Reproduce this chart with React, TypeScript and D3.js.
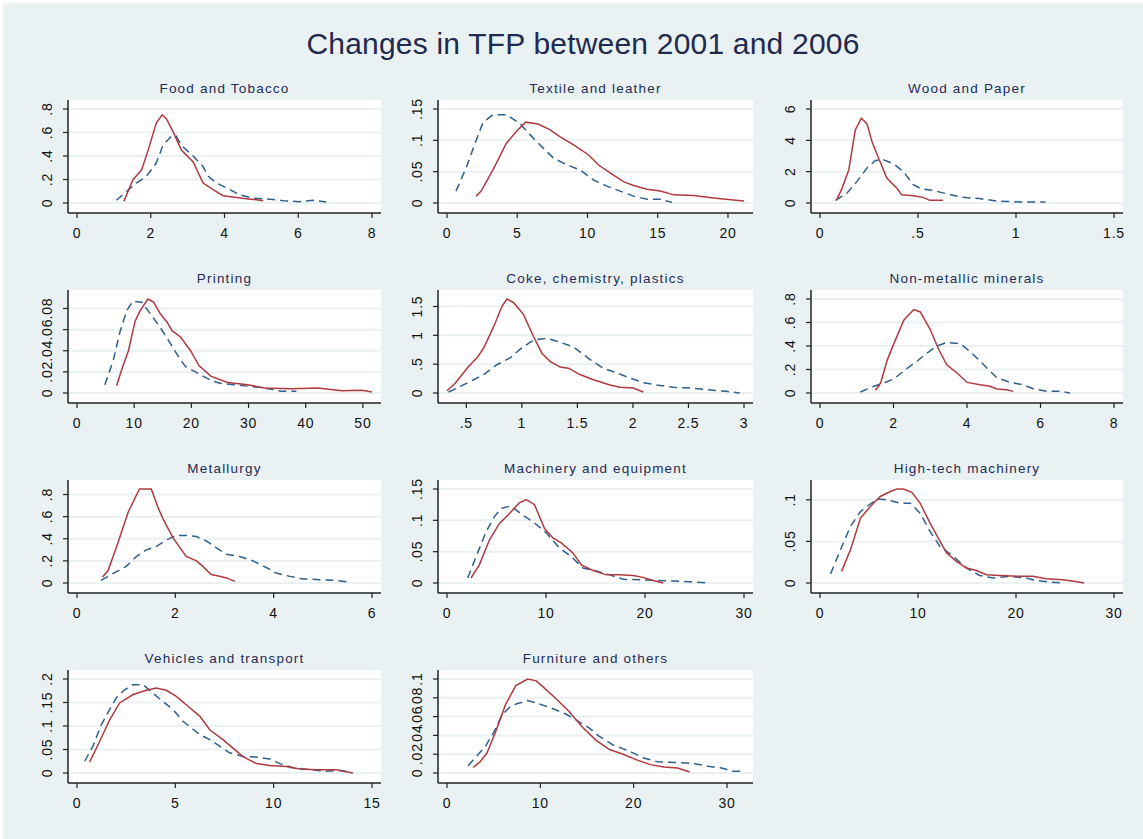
import React from 'react'
import * as d3 from 'd3'

// [x, density] points; blue dashed = 2001, red solid = 2006
const foodBlue = [[1.07,0.023],[1.61,0.17],[1.88,0.226],[2.15,0.34],[2.33,0.49],[2.56,0.57],[2.69,0.57],[2.83,0.49],[3.15,0.4],[3.42,0.31],[3.55,0.23],[3.78,0.17],[4.05,0.13],[4.41,0.07],[4.77,0.04],[5.14,0.034],[5.59,0.02],[6.04,0.011],[6.4,0.023],[6.76,0.008]]
const foodRed = [[1.27,0.014],[1.52,0.2],[1.75,0.28],[1.93,0.45],[2.15,0.68],[2.31,0.75],[2.42,0.72],[2.6,0.61],[2.83,0.45],[3.15,0.35],[3.42,0.17],[3.69,0.113],[3.96,0.062],[4.23,0.051],[4.59,0.037],[4.86,0.028],[5.05,0.02]]

const textileBlue = [[0.64,0.019],[1.36,0.056],[1.96,0.093],[2.55,0.128],[3.27,0.141],[4.22,0.141],[5.17,0.127],[6.37,0.098],[7.56,0.072],[8.51,0.061],[9.46,0.053],[10.41,0.037],[11.37,0.027],[12.32,0.019],[13.28,0.011],[14.23,0.006],[15.18,0.006],[16.02,0.001]]
const textileRed = [[2.07,0.011],[2.43,0.019],[3.27,0.053],[4.22,0.095],[4.93,0.114],[5.6,0.129],[6.48,0.126],[7.32,0.117],[8.03,0.106],[8.98,0.093],[10.06,0.077],[10.77,0.061],[11.61,0.048],[12.56,0.034],[13.28,0.028],[14.23,0.022],[15.18,0.019],[16.14,0.013],[17.57,0.012],[18.99,0.008],[20.19,0.005],[21.14,0.003]]

const woodBlue = [[0.079,0.17],[0.138,0.64],[0.189,1.38],[0.24,2.23],[0.282,2.71],[0.324,2.76],[0.375,2.5],[0.425,2.01],[0.476,1.17],[0.518,0.89],[0.577,0.81],[0.645,0.59],[0.729,0.36],[0.813,0.28],[0.914,0.11],[1.03,0.06],[1.15,0.06]]
const woodRed = [[0.084,0.17],[0.113,0.95],[0.147,2.12],[0.18,4.66],[0.211,5.41],[0.24,5.05],[0.265,3.92],[0.299,2.86],[0.341,1.59],[0.392,0.95],[0.417,0.53],[0.476,0.47],[0.526,0.36],[0.56,0.17],[0.628,0.17]]

const printBlue = [[4.88,0.0078],[6.35,0.031],[7.52,0.058],[8.7,0.078],[9.75,0.087],[11.34,0.086],[13.1,0.073],[14.57,0.062],[16.33,0.047],[17.8,0.034],[18.98,0.025],[21.04,0.019],[23.39,0.012],[25.15,0.009],[27.5,0.0078],[30.43,0.0062],[32.78,0.0047],[35.72,0.0016],[38.37,0.0016]]
const printRed = [[6.93,0.0068],[7.81,0.022],[8.99,0.04],[10.16,0.068],[11.05,0.078],[12.4,0.089],[13.4,0.086],[14.57,0.075],[15.75,0.067],[16.63,0.059],[18.1,0.053],[19.86,0.04],[21.33,0.026],[23.39,0.016],[26.32,0.01],[29.85,0.0078],[32.78,0.0047],[37.49,0.004],[42.19,0.0047],[46.3,0.0022],[49.82,0.0025],[51.59,0.0009]]

const cokeBlue = [[0.34,0.017],[0.446,0.115],[0.566,0.23],[0.656,0.32],[0.775,0.49],[0.895,0.61],[0.985,0.76],[1.105,0.92],[1.225,0.95],[1.344,0.88],[1.464,0.8],[1.614,0.58],[1.733,0.43],[1.853,0.35],[1.973,0.26],[2.093,0.18],[2.213,0.14],[2.362,0.098],[2.512,0.087],[2.662,0.058],[2.841,0.029],[2.961,0]]
const cokeRed = [[0.326,0.04],[0.4,0.17],[0.52,0.46],[0.596,0.61],[0.656,0.78],[0.746,1.15],[0.82,1.5],[0.865,1.63],[0.925,1.57],[1.015,1.36],[1.105,0.98],[1.18,0.69],[1.254,0.55],[1.344,0.45],[1.419,0.43],[1.524,0.32],[1.644,0.23],[1.793,0.14],[1.883,0.098],[2.003,0.087],[2.093,0.017]]

const mineralBlue = [[1.1,0.008],[1.46,0.057],[1.74,0.085],[2.01,0.12],[2.37,0.21],[2.64,0.27],[2.91,0.34],[3.18,0.4],[3.45,0.43],[3.82,0.42],[4.09,0.35],[4.36,0.27],[4.81,0.13],[5.17,0.09],[5.53,0.07],[5.8,0.037],[6.17,0.014],[6.53,0.014],[6.8,0]]
const mineralRed = [[1.51,0.023],[1.65,0.085],[1.83,0.28],[2.01,0.42],[2.28,0.62],[2.55,0.71],[2.73,0.69],[3.0,0.54],[3.23,0.37],[3.45,0.24],[3.73,0.17],[4.0,0.09],[4.36,0.07],[4.63,0.057],[4.81,0.034],[5.08,0.028],[5.26,0.014]]

const metalBlue = [[0.49,0.024],[0.73,0.085],[1.0,0.15],[1.21,0.24],[1.41,0.3],[1.61,0.33],[1.82,0.39],[2.02,0.43],[2.22,0.43],[2.43,0.42],[2.63,0.38],[2.83,0.32],[3.04,0.26],[3.31,0.24],[3.58,0.2],[3.85,0.14],[4.05,0.09],[4.33,0.06],[4.6,0.037],[4.94,0.03],[5.27,0.024],[5.51,0.009]]
const metalRed = [[0.52,0.055],[0.63,0.11],[0.8,0.32],[1.04,0.64],[1.27,0.85],[1.51,0.85],[1.65,0.68],[1.75,0.58],[1.95,0.41],[2.22,0.24],[2.43,0.2],[2.56,0.15],[2.73,0.076],[2.9,0.061],[3.04,0.046],[3.21,0.015]]

const machBlue = [[2.09,0.008],[2.94,0.042],[3.95,0.082],[4.79,0.106],[5.47,0.119],[6.48,0.123],[7.66,0.108],[8.67,0.098],[10.02,0.08],[11.37,0.056],[12.55,0.042],[13.74,0.024],[15.09,0.019],[16.44,0.013],[17.79,0.006],[19.47,0.005],[21.16,0.004],[22.85,0.003],[24.54,0.002],[26.39,0]]
const machRed = [[2.43,0.008],[3.27,0.029],[4.29,0.069],[5.3,0.095],[6.31,0.111],[7.32,0.128],[8.0,0.133],[8.84,0.125],[9.85,0.087],[10.7,0.072],[11.54,0.064],[12.72,0.048],[13.57,0.029],[14.75,0.02],[16.1,0.013],[17.45,0.013],[18.8,0.012],[19.81,0.009],[20.82,0.004],[21.84,0]]

const hitechBlue = [[1.08,0.011],[2.09,0.04],[3.11,0.068],[4.13,0.086],[4.8,0.092],[5.82,0.101],[6.83,0.1],[8.18,0.096],[9.2,0.096],[10.21,0.084],[11.23,0.062],[12.24,0.044],[13.6,0.032],[14.95,0.018],[16.3,0.009],[17.65,0.006],[19.34,0.008],[21.03,0.006],[22.05,0.003],[23.4,0.001],[24.92,0]]
const hitechRed = [[2.2,0.014],[3.11,0.04],[4.13,0.078],[5.14,0.092],[6.15,0.104],[7.17,0.11],[7.85,0.113],[8.52,0.113],[9.37,0.109],[10.21,0.096],[11.23,0.072],[12.07,0.054],[12.92,0.036],[13.93,0.026],[14.95,0.018],[15.96,0.015],[16.98,0.01],[18.33,0.009],[20.36,0.008],[21.71,0.008],[23.06,0.005],[24.75,0.004],[25.94,0.002],[26.95,0]]

const vehicleBlue = [[0.39,0.025],[0.81,0.057],[1.24,0.103],[1.66,0.135],[2.0,0.16],[2.42,0.177],[2.85,0.188],[3.36,0.188],[3.86,0.17],[4.37,0.152],[4.88,0.135],[5.39,0.11],[5.81,0.096],[6.24,0.082],[6.75,0.071],[7.25,0.057],[7.76,0.043],[8.44,0.035],[9.12,0.034],[9.8,0.03],[10.31,0.02],[10.98,0.011],[11.83,0.007],[12.68,0.0035],[13.36,0.0057],[13.95,0.0014]]
const vehicleRed = [[0.64,0.023],[1.15,0.067],[1.66,0.113],[2.17,0.149],[2.85,0.167],[3.53,0.176],[4.03,0.181],[4.54,0.176],[5.05,0.163],[5.64,0.142],[6.24,0.121],[6.75,0.092],[7.42,0.071],[7.93,0.053],[8.44,0.035],[9.12,0.02],[9.8,0.016],[10.64,0.014],[11.32,0.0085],[12.17,0.007],[13.19,0.007],[13.53,0.0035],[14.03,0]]

const furnBlue = [[2.26,0.0078],[3.18,0.018],[4.09,0.028],[5.0,0.043],[5.91,0.062],[6.82,0.071],[7.55,0.074],[8.65,0.077],[9.74,0.074],[11.2,0.069],[12.66,0.063],[13.75,0.057],[15.22,0.048],[16.31,0.039],[17.77,0.03],[19.6,0.023],[21.06,0.016],[22.52,0.012],[24.71,0.011],[26.53,0.0099],[27.99,0.0071],[29.45,0.0053],[30.55,0.0018],[31.82,0.0018]]
const furnRed = [[2.81,0.006],[3.54,0.012],[4.27,0.021],[5.18,0.043],[6.28,0.073],[7.37,0.093],[8.65,0.1],[9.56,0.098],[10.47,0.09],[11.57,0.08],[13.03,0.066],[14.49,0.049],[15.95,0.035],[17.41,0.025],[18.87,0.02],[20.33,0.014],[21.79,0.0089],[23.25,0.0064],[24.71,0.0053],[25.99,0.0011]]

const panelTitles = [
  'Food and Tobacco', 'Textile and leather', 'Wood and Paper',
  'Printing', 'Coke, chemistry, plastics', 'Non-metallic minerals',
  'Metallurgy', 'Machinery and equipment', 'High-tech machinery',
  'Vehicles and transport', 'Furniture and others'
]
const xTickSets = [
  [0, 2, 4, 6, 8], [0, 5, 10, 15, 20], [0, 0.5, 1, 1.5],
  [0, 10, 20, 30, 40, 50], [0.5, 1, 1.5, 2, 2.5, 3], [0, 2, 4, 6, 8],
  [0, 2, 4, 6], [0, 10, 20, 30], [0, 10, 20, 30],
  [0, 5, 10, 15], [0, 10, 20, 30]
]
const yTickSets = [
  [0, 0.2, 0.4, 0.6, 0.8], [0, 0.05, 0.1, 0.15], [0, 2, 4, 6],
  [0, 0.02, 0.04, 0.06, 0.08], [0, 0.5, 1, 1.5], [0, 0.2, 0.4, 0.6, 0.8],
  [0, 0.2, 0.4, 0.6, 0.8], [0, 0.05, 0.1, 0.15], [0, 0.05, 0.1],
  [0, 0.05, 0.1, 0.15, 0.2], [0, 0.02, 0.04, 0.06, 0.08, 0.1]
]
const blueSeries = [foodBlue, textileBlue, woodBlue, printBlue, cokeBlue, mineralBlue, metalBlue, machBlue, hitechBlue, vehicleBlue, furnBlue]
const redSeries = [foodRed, textileRed, woodRed, printRed, cokeRed, mineralRed, metalRed, machRed, hitechRed, vehicleRed, furnRed]

const W = 1143
const H = 839
const BG = '#e9f1f3'
const FONT = '"Liberation Sans", Arial, sans-serif'
const colBox = [[68, 381], [438, 753], [811, 1123]]

// stata style labels: drop the leading zero
const fmt = (v: number) => (v === 0 ? '0' : String(v).replace(/^0\./, '.'))

function Panel({ i }: { i: number }) {
  const row = Math.floor(i / 3)
  const col = i % 3
  const [left, right] = colBox[col]
  const top = 100 + 190 * row
  const bottom = top + 113
  const blue = blueSeries[i]
  const red = redSeries[i]
  const xt = xTickSets[i]
  const yt = yTickSets[i]
  const all = blue.concat(red)
  const xMin = Math.min(xt[0], d3.min(all, d => d[0]) as number)
  const xMax = Math.max(xt[xt.length - 1], d3.max(all, d => d[0]) as number)
  const yMax = Math.max(yt[yt.length - 1], d3.max(all, d => d[1]) as number)

  const x = d3.scaleLinear().domain([xMin, xMax]).range([left + 9, right - 9])
  const y = d3.scaleLinear().domain([0, yMax]).range([bottom - 10, bottom - 104])
  const line = d3.line<number[]>().x(d => x(d[0])).y(d => y(d[1]))

  return (
    <g>
      <text x={(left + right) / 2} y={top - 7} textAnchor="middle" fontSize={13.5}
        letterSpacing={1.2} fill="#1f2c55" fontFamily={FONT}>{panelTitles[i]}</text>
      <rect x={left} y={top} width={right - left} height={bottom - top} fill="#fff" />
      {yt.map(t => (
        <line key={'g' + t} x1={left} x2={right} y1={y(t)} y2={y(t)} stroke={BG} strokeWidth={2} />
      ))}
      <path d={line(blue) || ''} fill="none" stroke="#2f5f8c" strokeWidth={1.5} strokeDasharray="8 5" />
      <path d={line(red) || ''} fill="none" stroke="#b03a3f" strokeWidth={1.5} />
      <line x1={left} x2={left} y1={top} y2={bottom} stroke="#222" strokeWidth={1.5} />
      <line x1={left} x2={right} y1={bottom} y2={bottom} stroke="#222" strokeWidth={1.5} />
      {yt.map(t => (
        <g key={'y' + t}>
          <line x1={left - 5} x2={left} y1={y(t)} y2={y(t)} stroke="#222" strokeWidth={1.2} />
          <text transform={`translate(${left - 16},${y(t)}) rotate(-90)`} textAnchor="middle"
            fontSize={14} letterSpacing={0.8} fill="#111" fontFamily={FONT}>{fmt(t)}</text>
        </g>
      ))}
      {xt.map(t => (
        <g key={'x' + t}>
          <line x1={x(t)} x2={x(t)} y1={bottom} y2={bottom + 5} stroke="#222" strokeWidth={1.2} />
          <text x={x(t)} y={bottom + 25} textAnchor="middle" fontSize={14} letterSpacing={0.8}
            fill="#111" fontFamily={FONT}>{fmt(t)}</text>
        </g>
      ))}
    </g>
  )
}

export default function App() {
  return (
    <svg width={W} height={H} style={{ position: 'absolute', left: 0, top: 0, background: '#fff' }}>
      <rect x={3} y={3} width={W - 3} height={H - 3} fill={BG} />
      <text x={583} y={54} textAnchor="middle" fontSize={30} letterSpacing={0.2} fill="#1e2a4e" fontFamily={FONT}>
        Changes in TFP between 2001 and 2006
      </text>
      {panelTitles.map((t, i) => <Panel key={t} i={i} />)}
    </svg>
  )
}
